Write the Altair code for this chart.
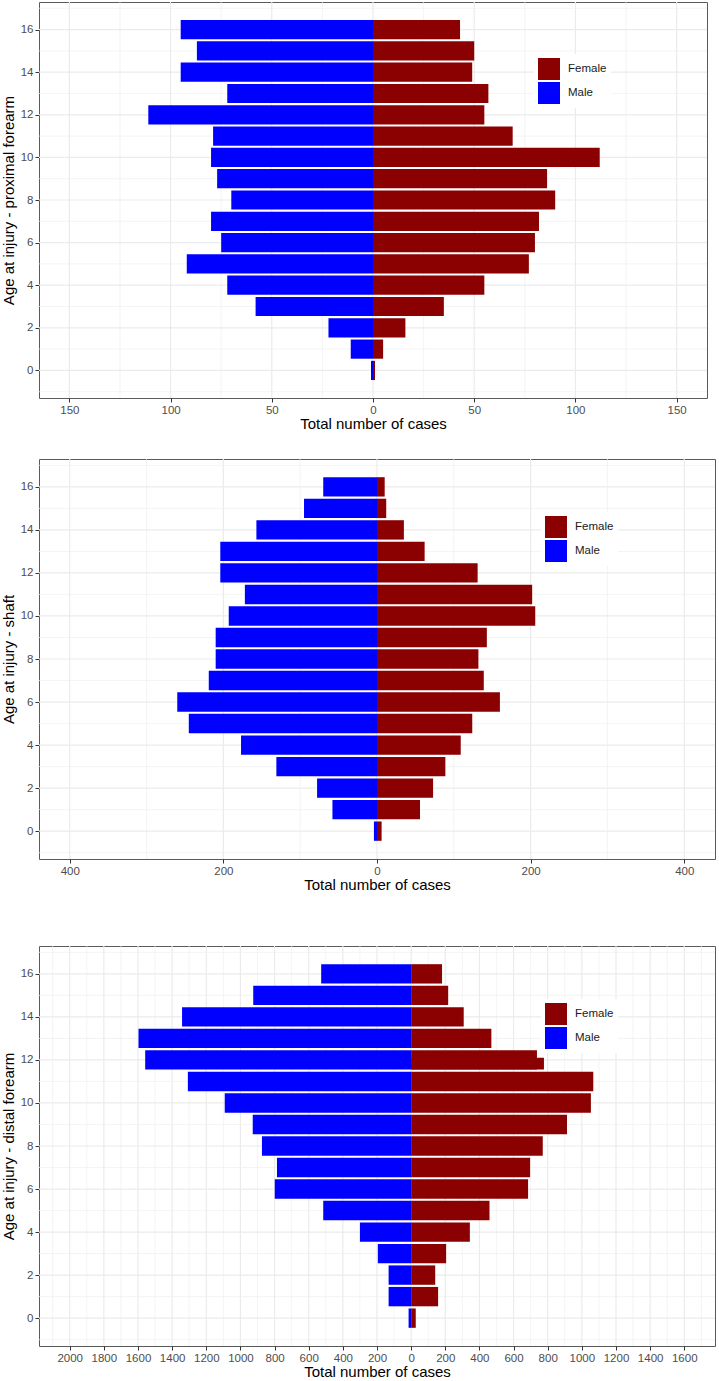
import altair as alt
import pandas as pd

# Age at injury (years)
AGES = list(range(17))

# Case counts by age, proximal forearm
PROX_MALE = [1, 11, 22, 58, 72, 92, 75, 80, 70, 77, 80, 79, 111, 72, 95, 87, 95]
PROX_FEMALE = [1, 5, 16, 35, 55, 77, 80, 82, 90, 86, 112, 69, 55, 57, 49, 50, 43]

# Case counts by age, shaft
SHAFT_MALE = [4, 58, 78, 131, 177, 245, 260, 219, 210, 210, 193, 172, 204, 204, 157, 95, 70]
SHAFT_FEMALE = [6, 56, 73, 89, 109, 124, 160, 139, 132, 143, 206, 202, 131, 62, 35, 12, 10]

# Case counts by age, distal forearm
DIST_MALE = [15, 132, 132, 195, 300, 515, 799, 786, 874, 928, 1092, 1308, 1558, 1597, 1342, 925, 527]
DIST_FEMALE = [27, 158, 141, 205, 344, 459, 685, 697, 771, 913, 1053, 1067, 737, 470, 308, 217, 181]
# second, partly overlapping female record at age 12 (distal forearm)
DIST_FEMALE_EXTRA_AGE = [12]
DIST_FEMALE_EXTRA = [778]

SEXES = ["Female", "Male"]
COLOURS = ["#8B0000", "#0000FF"]

FONT = "Liberation Sans"
Y_MAJOR = list(range(0, 17, 2))
Y_MINOR = list(range(-1, 18, 2))


def long_table(male, female):
    rows = []
    for age, m, f in zip(AGES, male, female):
        rows.append({"age": age, "sex": "Male", "value": -m})
        rows.append({"age": age, "sex": "Female", "value": f})
    return pd.DataFrame(rows)


def panel(male, female, limit_lo, limit_hi, x_major, x_minor, ytitle,
          width, height, legend_x, legend_y, extra=None):
    span = limit_hi - limit_lo
    xdom = [limit_lo - 0.05 * span, limit_hi + 0.05 * span]
    ydom = [-0.45 - 0.05 * 16.9, 16.45 + 0.05 * 16.9]
    xs = alt.Scale(domain=xdom, nice=False, zero=False)
    ys = alt.Scale(domain=ydom, nice=False, zero=False)

    xa = alt.Axis(values=x_major, grid=False, domain=False,
                  tickColor="#333333", tickSize=4, tickWidth=1,
                  labelColor="#4D4D4D", labelFontSize=11.5,
                  labelPadding=2, labelExpr="format(abs(datum.value), 'd')",
                  title="Total number of cases", titleFontSize=15,
                  titleFontWeight="normal", titleColor="#000000",
                  titlePadding=1)
    ya = alt.Axis(values=Y_MAJOR, grid=False, domain=False,
                  tickColor="#333333", tickSize=4, tickWidth=1,
                  labelColor="#4D4D4D", labelFontSize=11.5,
                  labelPadding=2, title=ytitle, titleFontSize=15,
                  titleFontWeight="normal", titleColor="#000000",
                  titlePadding=4)

    vmin = alt.Chart(pd.DataFrame({"v": x_minor})).mark_rule(
        color="#EFEFEF", strokeWidth=0.7).encode(x=alt.X("v:Q", scale=xs, axis=xa))
    vmaj = alt.Chart(pd.DataFrame({"v": x_major})).mark_rule(
        color="#EBEBEB", strokeWidth=1.2).encode(x=alt.X("v:Q", scale=xs, axis=xa))
    hmin = alt.Chart(pd.DataFrame({"v": Y_MINOR})).mark_rule(
        color="#EFEFEF", strokeWidth=0.7).encode(y=alt.Y("v:Q", scale=ys, axis=ya))
    hmaj = alt.Chart(pd.DataFrame({"v": Y_MAJOR})).mark_rule(
        color="#EBEBEB", strokeWidth=1.2).encode(y=alt.Y("v:Q", scale=ys, axis=ya))

    colour = alt.Color(
        "sex:N",
        scale=alt.Scale(domain=SEXES, range=COLOURS),
        legend=alt.Legend(
            title=None, orient="none", legendX=legend_x, legendY=legend_y,
            fillColor="white", padding=4, symbolType="square", symbolSize=484,
            symbolStrokeWidth=0, symbolOpacity=1, labelFontSize=11.5,
            labelColor="#1A1A1A", labelOffset=8, rowPadding=2, labelFont=FONT,
        ),
    )

    bars = alt.Chart(long_table(male, female)).transform_calculate(
        lo="datum.age - 0.45", hi="datum.age + 0.45"
    ).mark_rect().encode(
        x=alt.X("value:Q", scale=xs, axis=xa),
        x2=alt.datum(0),
        y=alt.Y("lo:Q", scale=ys, axis=ya),
        y2="hi:Q",
        color=colour,
    )

    layers = [vmin, vmaj, hmin, hmaj, bars]
    if extra is not None:
        ages, vals = extra
        ex = alt.Chart(pd.DataFrame({"age": ages, "value": vals, "sex": "Female"})).transform_calculate(
            lo="datum.age - 0.45", hi="datum.age + 0.1"
        ).mark_rect().encode(
            x=alt.X("value:Q", scale=xs, axis=xa),
            x2=alt.datum(0),
            y=alt.Y("lo:Q", scale=ys, axis=ya),
            y2="hi:Q",
            color=colour,
        )
        layers.append(ex)

    return alt.layer(*layers).properties(width=width, height=height)


p1 = panel(PROX_MALE, PROX_FEMALE, -150, 150,
           list(range(-150, 151, 50)), list(range(-125, 126, 50)),
           "Age at injury - proximal forearm", 668, 396, 495, 52)
p2 = panel(SHAFT_MALE, SHAFT_FEMALE, -400, 400,
           list(range(-400, 401, 200)), list(range(-300, 301, 200)),
           "Age at injury - shaft", 676, 400, 502, 53)
p3 = panel(DIST_MALE, DIST_FEMALE, -2000, 1600,
           list(range(-2000, 1601, 200)), list(range(-2100, 1701, 200)),
           "Age at injury - distal forearm", 676, 400, 502, 53,
           extra=(DIST_FEMALE_EXTRA_AGE, DIST_FEMALE_EXTRA))

top_pair = alt.vconcat(p1, p2, spacing=25).resolve_scale(
    color="independent", x="independent", y="independent"
).resolve_legend(color="independent")

chart = alt.vconcat(top_pair, p3, spacing=51).resolve_scale(
    color="independent", x="independent", y="independent"
).resolve_legend(
    color="independent"
).properties(
    padding={"left": 0, "top": 0, "right": 0, "bottom": 0}
).configure(
    font=FONT, background="white"
).configure_view(
    stroke="#5A5A5A", strokeWidth=1
)

chart.save("out.html", embed_options={"renderer": "svg", "actions": False})
